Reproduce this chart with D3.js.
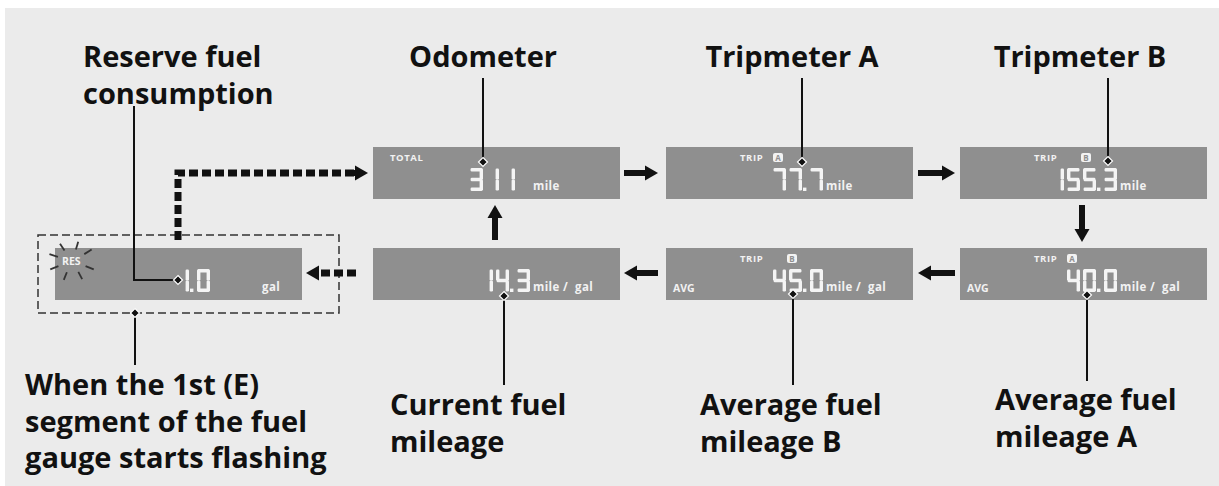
<!DOCTYPE html>
<html>
<head>
<meta charset="utf-8">
<script src="https://cdn.jsdelivr.net/npm/d3@7"></script>
<style>
  body { margin: 0; background: #fff; }
  svg { display: block; }
  .lbl { font-family: "Open Sans", "Noto Sans", sans-serif; font-weight: 700; font-size: 29px; fill: #111; }
  .small { font-family: "Open Sans", "Noto Sans", sans-serif; font-weight: 700; fill: #f2f2f2; }
</style>
</head>
<body>
<svg id="chart" width="1219" height="486"></svg>
<script>
// display modes shown in the cycle
const panelIds   = ['res', 'total', 'tripA', 'tripB', 'current', 'avgB', 'avgA'];
const topLabels  = ['', 'TOTAL', 'TRIP', 'TRIP', '', 'TRIP', 'TRIP'];
const badges     = ['', '', 'A', 'B', '', 'B', 'A'];
const sideLabels = ['RES', '', '', '', '', 'AVG', 'AVG'];
const readings   = ['1.0', '311', '77.7', '155.3', '14.3', '45.0', '40.0'];
const units      = ['gal', 'mile', 'mile', 'mile', 'mile /  gal', 'mile /  gal', 'mile /  gal'];

// callout texts
const calloutText = [
  ['Reserve fuel', 'consumption'],
  ['Odometer'],
  ['Tripmeter A'],
  ['Tripmeter B'],
  ['When the 1st (E)', 'segment of the fuel', 'gauge starts flashing'],
  ['Current fuel', 'mileage'],
  ['Average fuel', 'mileage B'],
  ['Average fuel', 'mileage A']
];

// layout (not data)
const W = 1219, H = 486;
const panelW = 247, panelH = 52;
const col = d3.scaleOrdinal().domain([0, 1, 2, 3]).range([55, 373, 666, 960]);
const row = d3.scaleOrdinal().domain([0, 1]).range([147, 248]);
const slot = {res: [0, 1], total: [1, 0], tripA: [2, 0], tripB: [3, 0], current: [1, 1], avgB: [2, 1], avgA: [3, 1]};
const digitRight = {res: 155, total: 142};
const unitOff = {res: 207};

const svg = d3.select('#chart');
svg.append('rect').attr('width', W).attr('height', H).attr('fill', '#fff');
svg.append('rect').attr('x', 5).attr('y', 8).attr('width', W - 5).attr('height', H - 8).attr('fill', '#ebebeb');

// seven segment digits
const SEG = {
  '0': 'abcdef', '1': 'bc', '2': 'abdeg', '3': 'abcdg', '4': 'bcfg',
  '5': 'acdfg', '6': 'acdefg', '7': 'abc', '8': 'abcdefg', '9': 'abcdfg'
};
const dw = 13, dh = 23, t = 3.4, adv = 16, dotAdv = 5;

function segRects(ch, x, y) {
  const h2 = dh / 2, g = 0.6;
  const r = {
    a: [x + g, y, dw - 2 * g, t],
    b: [x + dw - t, y + g, t, h2 - g],
    c: [x + dw - t, y + h2, t, h2 - g],
    d: [x + g, y + dh - t, dw - 2 * g, t],
    e: [x, y + h2, t, h2 - g],
    f: [x, y + g, t, h2 - g],
    g: [x + g, y + h2 - t / 2, dw - 2 * g, t]
  };
  return (SEG[ch] || '').split('').map(s => r[s]);
}

function drawReading(g, str, right, top) {
  let w = 0;
  for (const ch of str) w += ch === '.' ? dotAdv : adv;
  let x = right - w + (adv - dw);
  for (const ch of str) {
    if (ch === '.') {
      g.append('rect').attr('x', x - 2).attr('y', top + dh - t).attr('width', 3.4).attr('height', t)
        .attr('fill', '#f4f4f4');
      x += dotAdv;
    } else {
      g.selectAll(null).data(segRects(ch, x, top)).join('rect')
        .attr('x', d => d[0]).attr('y', d => d[1]).attr('width', d => d[2]).attr('height', d => d[3])
        .attr('rx', 1.2).attr('fill', '#f4f4f4');
      x += adv;
    }
  }
}

// panels
const panels = svg.selectAll('g.panel').data(panelIds).join('g')
  .attr('class', 'panel')
  .attr('transform', id => `translate(${col(slot[id][0])},${row(slot[id][1])})`);

panels.append('rect').attr('width', panelW).attr('height', panelH).attr('fill', '#8f8f8f');

panels.each(function (id, i) {
  const g = d3.select(this);
  const right = digitRight[id] !== undefined ? digitRight[id] : 157;
  drawReading(g, readings[i], right, 21);
  const ux = unitOff[id] !== undefined ? unitOff[id] : 160;
  g.append('text').attr('class', 'small').attr('x', ux).attr('y', 43)
    .attr('font-size', 11.5).attr('letter-spacing', 0.4).attr('xml:space', 'preserve').text(units[i]);
  if (topLabels[i]) {
    const tx = id === 'total' ? 17 : 74;
    g.append('text').attr('class', 'small').attr('x', tx).attr('y', 14)
      .attr('font-size', 9.5).attr('letter-spacing', 0.6).text(topLabels[i]);
    if (badges[i]) {
      const bx = (id === 'tripA' || id === 'avgA') ? 107 : 121;
      g.append('rect').attr('x', bx).attr('y', 6).attr('width', 10).attr('height', 9).attr('rx', 2)
        .attr('fill', '#f2f2f2');
      g.append('text').attr('x', bx + 5).attr('y', 13.5).attr('text-anchor', 'middle')
        .attr('font-family', 'Open Sans, sans-serif').attr('font-weight', 700).attr('font-size', 8)
        .attr('fill', '#8f8f8f').text(badges[i]);
    }
  }
  if (sideLabels[i] === 'AVG') {
    g.append('text').attr('class', 'small').attr('x', 7).attr('y', 44).attr('font-size', 10.5).text('AVG');
  }
  if (sideLabels[i] === 'RES') {
    g.append('text').attr('class', 'small').attr('x', 7).attr('y', 17).attr('font-size', 10.5).text('RES');
    const rays = [-160, -120, -75, -35, 25, 65, 110, 155];
    g.selectAll('line.ray').data(rays).join('line').attr('class', 'ray')
      .attr('x1', a => 17 + 15 * Math.cos(a * Math.PI / 180)).attr('y1', a => 13 + 12 * Math.sin(a * Math.PI / 180))
      .attr('x2', a => 17 + 24 * Math.cos(a * Math.PI / 180)).attr('y2', a => 13 + 20 * Math.sin(a * Math.PI / 180))
      .attr('stroke', '#333').attr('stroke-width', 1.8);
  }
});

// dashed frame around reserve panel
svg.append('rect').attr('x', 38).attr('y', 235).attr('width', 301).attr('height', 78)
  .attr('fill', 'none').attr('stroke', '#333').attr('stroke-width', 1.5).attr('stroke-dasharray', '8 4');

// arrows
function arrow(x1, y1, x2, y2, dashed) {
  const ang = Math.atan2(y2 - y1, x2 - x1);
  const hl = 13, hw = 7.5;
  const bx = x2 - hl * Math.cos(ang), by = y2 - hl * Math.sin(ang);
  svg.append('line').attr('x1', x1).attr('y1', y1).attr('x2', bx).attr('y2', by)
    .attr('stroke', '#111').attr('stroke-width', dashed ? 7 : 6)
    .attr('stroke-dasharray', dashed ? '9 4' : null);
  const px = -Math.sin(ang) * hw, py = Math.cos(ang) * hw;
  svg.append('path').attr('d', `M${x2},${y2}L${bx + px},${by + py}L${bx - px},${by - py}Z`).attr('fill', '#111');
}
arrow(624, 173, 658, 173);
arrow(918, 173, 955, 173);
arrow(1082, 205, 1082, 242);
arrow(955, 273, 918, 273);
arrow(658, 273, 624, 273);
arrow(495, 240, 495, 205);
arrow(356, 273, 306, 273, true);
// dashed route back to odometer
svg.append('path').attr('d', 'M178,240V173H355')
  .attr('fill', 'none').attr('stroke', '#111').attr('stroke-width', 7).attr('stroke-dasharray', '9 4');
arrow(354, 173, 368, 173);

// callout labels
const callPos = [
  {x: 83, y: 67, anchor: 'start'}, {x: 483, y: 67, anchor: 'middle'},
  {x: 792, y: 67, anchor: 'middle'}, {x: 1080, y: 67, anchor: 'middle'},
  {x: 25, y: 395, anchor: 'start'}, {x: 390, y: 415, anchor: 'start'},
  {x: 700, y: 415, anchor: 'start'}, {x: 995, y: 410, anchor: 'start'}
];
calloutText.forEach((lines, i) => {
  svg.append('text').attr('class', 'lbl').attr('text-anchor', callPos[i].anchor)
    .selectAll('tspan').data(lines).join('tspan')
    .attr('x', callPos[i].x).attr('y', (d, k) => callPos[i].y + k * 36.5).text(d => d);
});

// leader lines with diamond ends
const leaders = [
  {pts: [[134, 106], [134, 280], [178, 280]], end: [178, 280]},
  {pts: [[483, 78], [483, 162]], end: [483, 162]},
  {pts: [[802, 78], [802, 162]], end: [802, 162]},
  {pts: [[1108, 78], [1108, 161]], end: [1108, 161]},
  {pts: [[135, 313], [135, 365]], end: [135, 313]},
  {pts: [[504, 296], [504, 385]], end: [504, 296]},
  {pts: [[793, 294], [793, 385]], end: [793, 294]},
  {pts: [[1087, 295], [1087, 381]], end: [1087, 295]}
];
const line = d3.line();
svg.selectAll('path.leader').data(leaders).join('path').attr('class', 'leader')
  .attr('d', d => line(d.pts)).attr('fill', 'none').attr('stroke', '#111').attr('stroke-width', 2);
svg.selectAll('path.dia').data(leaders).join('path').attr('class', 'dia')
  .attr('transform', d => `translate(${d.end[0]},${d.end[1]})`)
  .attr('d', 'M0,-4.5L4.5,0L0,4.5L-4.5,0Z').attr('fill', '#111').attr('stroke', '#fff').attr('stroke-width', 1.2);
</script>
</body>
</html>
